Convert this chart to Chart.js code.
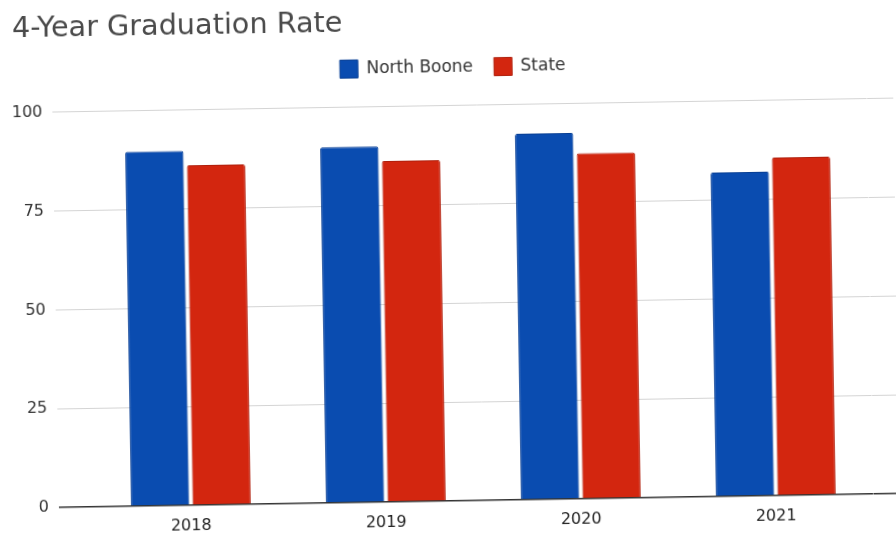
<!DOCTYPE html>
<html>
<head>
<meta charset="utf-8">
<script src="https://cdn.jsdelivr.net/npm/chart.js@4/dist/chart.umd.min.js"></script>
<style>
  html, body { margin: 0; padding: 0; background: #fff; overflow: hidden; }
  #wrap { width: 896px; height: 533px; transform: rotate(-0.95deg); transform-origin: 50% 50%; }
</style>
</head>
<body>
<div id="wrap"><canvas id="chart"></canvas></div>
<script>
const years = ["2018", "2019", "2020", "2021"];
const northBoone = [89.7, 90, 92.6, 82];
const state = [86, 86.3, 87.4, 85.5];
const yTicks = [0, 25, 50, 75, 100];

const font = "'DejaVu Sans', 'Liberation Sans', Arial, sans-serif";
const gridColor = (ctx) => (ctx.tick && ctx.tick.value === 0 ? "#333333" : "#d4d4d4");
const gridWidth = (ctx) => (ctx.tick && ctx.tick.value === 0 ? 1.5 : 1);

const chart = new Chart(document.getElementById("chart"), {
  type: "bar",
  data: {
    labels: years,
    datasets: [
      {
        label: "North Boone",
        data: northBoone,
        backgroundColor: "#0a4cb0",
        borderColor: "#083f94",
        borderWidth: 1,
        borderRadius: 2,
        categoryPercentage: 0.63,
        barPercentage: 0.95
      },
      {
        label: "State",
        data: state,
        backgroundColor: "#d3260f",
        borderColor: "#b01f0c",
        borderWidth: 1,
        borderRadius: 2,
        categoryPercentage: 0.63,
        barPercentage: 0.95
      }
    ]
  },
  options: {
    responsive: true,
    maintainAspectRatio: false,
    animation: false,
    layout: { padding: { left: 16, right: 0, top: 0, bottom: 0 } },
    scales: {
      x: {
        grid: { display: false, drawTicks: false },
        border: { display: false },
        ticks: { padding: 11.5, color: "#222", font: { family: font, size: 16 } },
        afterFit: (s) => { s.height = 32; }
      },
      // spacer between the legend and the plot
      xTop: {
        type: "category",
        position: "top",
        grid: { display: false, drawTicks: false },
        border: { display: false },
        ticks: { display: false },
        afterFit: (s) => { s.height = 19.3; }
      },
      y: {
        min: 0,
        max: 100,
        afterBuildTicks: (s) => { s.ticks = yTicks.map(v => ({ value: v })); },
        grid: { color: gridColor, lineWidth: gridWidth, tickLength: 34.5 },
        border: { display: false },
        ticks: { padding: 10, color: "#333", font: { family: font, size: 16 } },
        afterFit: (s) => { s.width = 73.5; }
      },
      y2: {
        position: "right",
        min: 0,
        max: 100,
        afterBuildTicks: (s) => { s.ticks = yTicks.map(v => ({ value: v })); },
        grid: { color: gridColor, lineWidth: gridWidth, tickLength: 26.5, drawOnChartArea: false },
        border: { display: false },
        ticks: { display: false },
        afterFit: (s) => { s.width = 26.5; }
      }
    },
    plugins: {
      title: {
        display: true,
        text: "4-Year Graduation Rate",
        align: "start",
        color: "#4a4a4a",
        font: { family: font, size: 28.7, weight: "normal" },
        padding: { top: 5.5, bottom: -2.5 }
      },
      legend: {
        display: true,
        labels: {
          boxWidth: 18,
          boxHeight: 18,
          padding: 21,
          color: "#333",
          font: { family: font, size: 17 }
        }
      },
      tooltip: { enabled: false }
    }
  }
});
</script>
</body>
</html>
